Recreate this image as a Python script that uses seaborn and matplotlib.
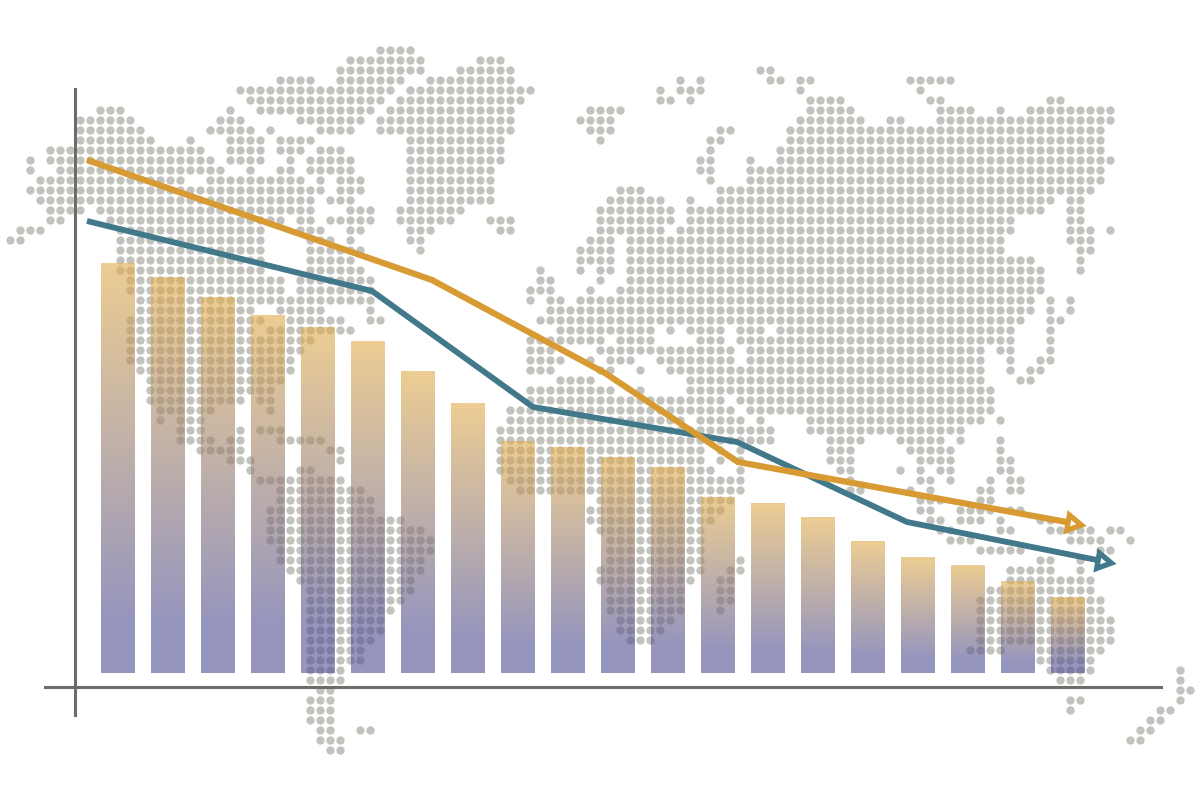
import numpy as np
import pandas as pd
import seaborn as sns
import matplotlib.pyplot as plt
from matplotlib.colors import LinearSegmentedColormap

# bar values
bar_labels = [str(i + 1) for i in range(20)]
bar_values = [410, 396, 376, 358, 346, 332, 302, 270, 232, 226,
              216, 206, 176, 170, 156, 132, 116, 108, 92, 76]

# the two trend lines (x in bar positions, last point is the arrow head)
orange_x = [-0.62, 6.28, 9.74, 12.40, 19.08]
orange_y = [513, 393, 300, 211, 150]
blue_x = [-0.62, 5.08, 8.30, 12.38, 15.78, 19.68]
blue_y = [452, 382, 266, 231, 151, 112]

# dotted world map: one row of the dot grid per entry, runs of filled columns
map_rows = list(range(5, 76))
map_runs = [
    [(38, 41)],
    [(35, 42), (48, 50)],
    [(34, 42), (46, 51), (76, 77)],
    [(28, 31), (34, 40), (43, 51), (68, 68), (70, 70), (77, 78), (80, 81), (91, 95)],
    [(24, 39), (41, 53), (66, 66), (68, 70), (80, 80), (92, 92)],
    [(25, 38), (40, 52), (66, 67), (69, 69), (81, 84), (93, 94), (105, 106)],
    [(10, 12), (23, 23), (26, 37), (39, 51), (59, 62), (81, 85), (94, 97), (100, 100), (103, 111)],
    [(8, 13), (22, 24), (30, 36), (38, 51), (58, 61), (80, 86), (89, 90), (94, 111)],
    [(8, 14), (21, 25), (27, 27), (32, 35), (38, 51), (59, 61), (72, 73), (79, 110)],
    [(8, 15), (19, 19), (23, 26), (28, 31), (41, 50), (60, 60), (71, 72), (79, 110)],
    [(5, 20), (23, 26), (28, 30), (32, 34), (41, 50), (71, 71), (78, 110)],
    [(3, 3), (5, 21), (23, 26), (29, 29), (31, 35), (41, 50), (70, 71), (75, 75), (78, 111)],
    [(3, 3), (6, 22), (25, 25), (28, 29), (31, 35), (41, 49), (70, 71), (75, 110)],
    [(4, 18), (21, 30), (32, 32), (34, 36), (41, 49), (71, 71), (75, 110)],
    [(3, 32), (34, 36), (41, 49), (62, 64), (72, 109)],
    [(4, 31), (33, 35), (41, 49), (61, 66), (69, 69), (72, 105), (107, 108)],
    [(5, 8), (10, 31), (35, 37), (40, 46), (60, 67), (69, 104), (107, 108)],
    [(5, 6), (11, 28), (30, 31), (33, 37), (40, 45), (49, 51), (60, 67), (69, 101), (107, 108)],
    [(2, 4), (12, 26), (30, 32), (35, 36), (41, 43), (50, 51), (60, 66), (68, 101), (107, 109), (111, 111)],
    [(1, 2), (12, 26), (31, 33), (35, 35), (41, 42), (59, 61), (63, 100), (107, 109)],
    [(12, 26), (31, 36), (42, 42), (58, 61), (63, 100), (108, 109)],
    [(12, 26), (31, 35), (58, 61), (63, 103), (108, 108)],
    [(12, 26), (31, 36), (54, 54), (58, 58), (60, 61), (63, 104), (108, 108)],
    [(13, 28), (30, 37), (54, 55), (60, 60), (63, 104)],
    [(13, 28), (30, 37), (53, 55), (59, 59), (62, 104)],
    [(14, 37), (53, 53), (55, 56), (58, 103), (105, 105), (107, 107)],
    [(14, 25), (28, 32), (37, 37), (55, 103), (105, 105), (107, 107)],
    [(13, 26), (29, 34), (37, 38), (54, 102), (105, 106)],
    [(13, 25), (27, 35), (56, 65), (67, 67), (69, 72), (74, 76), (78, 101), (105, 105)],
    [(13, 31), (53, 60), (62, 65), (70, 72), (74, 101), (105, 105)],
    [(13, 30), (53, 55), (60, 73), (75, 98), (100, 101), (105, 105)],
    [(13, 29), (53, 56), (59, 59), (61, 63), (66, 73), (75, 98), (101, 101), (104, 105)],
    [(14, 29), (53, 55), (60, 61), (64, 64), (67, 98), (101, 101), (103, 104)],
    [(15, 28), (56, 59), (69, 98), (102, 103)],
    [(15, 27), (53, 61), (64, 64), (69, 99)],
    [(15, 24), (26, 27), (53, 72), (74, 99)],
    [(16, 21), (27, 27), (51, 73), (75, 99)],
    [(16, 16), (18, 20), (51, 68), (70, 74), (76, 76), (81, 98), (100, 100)],
    [(18, 20), (24, 24), (26, 28), (50, 77), (81, 96)],
    [(18, 21), (23, 24), (28, 32), (50, 77), (83, 86), (90, 94), (96, 96), (100, 100)],
    [(20, 24), (33, 34), (50, 70), (72, 72), (74, 74), (83, 85), (91, 95), (100, 100)],
    [(23, 25), (34, 34), (50, 70), (72, 72), (74, 74), (83, 85), (92, 95), (100, 101)],
    [(25, 25), (30, 31), (50, 71), (74, 74), (84, 85), (90, 90), (92, 92), (94, 95), (100, 101)],
    [(26, 34), (51, 74), (85, 85), (92, 93), (95, 95), (99, 99), (101, 102)],
    [(28, 36), (52, 74), (85, 86), (91, 91), (93, 93), (98, 99), (101, 102)],
    [(28, 37), (60, 73), (92, 94), (98, 99)],
    [(27, 37), (59, 72), (92, 93), (96, 99), (101, 102)],
    [(27, 40), (59, 71), (93, 94), (96, 98), (100, 100), (104, 105)],
    [(27, 42), (60, 70), (94, 95), (100, 101), (105, 109), (111, 112)],
    [(27, 43), (61, 70), (95, 97), (107, 110), (113, 113)],
    [(28, 43), (61, 70), (98, 102), (110, 111)],
    [(28, 42), (61, 70), (74, 74), (104, 105), (108, 108)],
    [(29, 42), (60, 70), (73, 74), (101, 105), (108, 108)],
    [(30, 41), (60, 69), (72, 73), (101, 109)],
    [(31, 41), (61, 68), (72, 73), (99, 109)],
    [(31, 40), (61, 68), (72, 73), (98, 110)],
    [(31, 39), (61, 68), (72, 72), (98, 110)],
    [(31, 38), (62, 67), (98, 111)],
    [(31, 38), (62, 66), (98, 111)],
    [(31, 37), (63, 65), (98, 111)],
    [(31, 36), (97, 100), (104, 110)],
    [(31, 36), (104, 109)],
    [(31, 34), (105, 109), (118, 118)],
    [(31, 34), (106, 108), (118, 118)],
    [(32, 33), (118, 119)],
    [(31, 33), (107, 108), (118, 118)],
    [(31, 33), (107, 107), (116, 117)],
    [(31, 33), (115, 116)],
    [(32, 33), (36, 37), (114, 115)],
    [(32, 34), (113, 114)],
    [(33, 34)],
]

sns.set_style("white")
fig = plt.figure(figsize=(12, 8), dpi=100)
ax = fig.add_axes([0, 0, 1, 1])

# map dots sit under the bars
dots = pd.DataFrame(
    [(col, row) for row, runs in zip(map_rows, map_runs)
     for a, b in runs for col in range(a, b + 1)],
    columns=["col", "row"])
dots["x"] = (dots["col"] * 10 - 118) / 50
dots["y"] = 673 - dots["row"] * 10
sns.scatterplot(data=dots, x="x", y="y", s=36, color="#C3C3BE",
                linewidth=0, ax=ax, zorder=1)

# bars, then swap each flat patch for a translucent vertical gradient
bars = pd.DataFrame({"label": bar_labels, "value": bar_values})
sns.barplot(data=bars, x="label", y="value", width=0.68, color="#ccc", ax=ax, zorder=2)

grad = LinearSegmentedColormap.from_list(
    "bar", [(0, "#E1AC4B"), (0.88, "#4E4E93"), (1, "#4E4E93")])
for bar in ax.patches:
    x0, w, h = bar.get_x(), bar.get_width(), bar.get_height()
    ax.imshow(np.linspace(0, 1, 256).reshape(-1, 1), cmap=grad, aspect="auto", alpha=0.6,
              extent=(x0, x0 + w, 0, h), origin="upper", interpolation="bilinear", zorder=2)
    bar.set_visible(False)

# trend lines with hollow arrow heads
sns.lineplot(x=blue_x, y=blue_y, sort=False, estimator=None, color="#41788A", linewidth=4.2,
             solid_capstyle="butt", solid_joinstyle="miter", ax=ax, zorder=4)
blue_head = ax.scatter(blue_x[-1], blue_y[-1], marker=(3, 0, -100), s=170, facecolor="white",
                       edgecolor="#41788A", linewidth=3.8, zorder=4)
blue_head.set_joinstyle("miter")
sns.lineplot(x=orange_x, y=orange_y, sort=False, estimator=None, color="#D89B33", linewidth=4.5,
             solid_capstyle="butt", solid_joinstyle="miter", ax=ax, zorder=5)
orange_head = ax.scatter(orange_x[-1], orange_y[-1], marker=(3, 0, -100), s=170, facecolor="white",
                         edgecolor="#D89B33", linewidth=3.8, zorder=5)
orange_head.set_joinstyle("miter")

# axes run past each other at the origin
ax.set_xlim(-2.36, 21.64)
ax.set_ylim(-127, 673)
ax.set_xticks([])
ax.set_yticks([])
ax.set_xlabel("")
ax.set_ylabel("")
sns.despine(ax=ax)
ax.patch.set_visible(False)
ax.spines["left"].set_position(("data", -0.86))
ax.spines["left"].set_bounds(-42, 584)
ax.spines["bottom"].set_position(("data", -14))
ax.spines["bottom"].set_bounds(-1.46, 20.85)
for side in ["left", "bottom"]:
    ax.spines[side].set_color("#6C6C69")
    ax.spines[side].set_linewidth(2.2)
    ax.spines[side].set_zorder(3)

plt.savefig("out.png", dpi=100, facecolor="white")
